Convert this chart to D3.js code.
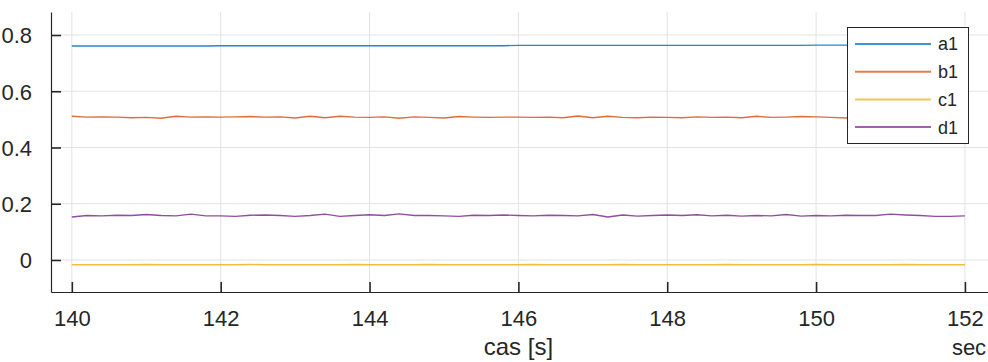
<!DOCTYPE html>
<html>
<head>
<meta charset="utf-8">
<script src="https://cdn.jsdelivr.net/npm/d3@7"></script>
<style>
  html, body { margin: 0; padding: 0; background: #fff; }
  svg { display: block; font-family: "Liberation Sans", Arial, sans-serif; }
</style>
</head>
<body>
<svg id="chart" width="988" height="362"></svg>
<script>
// Signal samples, 0.2 s apart, starting at t = 140 s
const t0 = 140;
const dt = 0.2;

const a1 = [0.761, 0.761, 0.761, 0.761, 0.761, 0.761, 0.761, 0.761, 0.761, 0.761,
            0.762, 0.762, 0.762, 0.762, 0.762, 0.762, 0.762, 0.762, 0.762, 0.762,
            0.762, 0.762, 0.762, 0.762, 0.762, 0.762, 0.762, 0.762, 0.762, 0.762,
            0.763, 0.763, 0.763, 0.763, 0.763, 0.763, 0.763, 0.763, 0.763, 0.763,
            0.763, 0.763, 0.763, 0.763, 0.763, 0.763, 0.763, 0.763, 0.763, 0.763,
            0.764, 0.764, 0.764, 0.764, 0.764, 0.764, 0.764, 0.764, 0.764, 0.764, 0.764];

const b1 = [0.511, 0.508, 0.509, 0.508, 0.506, 0.507, 0.504, 0.511, 0.508, 0.509,
            0.508, 0.509, 0.510, 0.508, 0.509, 0.505, 0.511, 0.506, 0.511, 0.508,
            0.507, 0.509, 0.504, 0.509, 0.507, 0.505, 0.510, 0.508, 0.507, 0.508,
            0.508, 0.507, 0.508, 0.506, 0.512, 0.506, 0.511, 0.507, 0.506, 0.508,
            0.507, 0.506, 0.509, 0.507, 0.508, 0.506, 0.511, 0.507, 0.508, 0.510,
            0.509, 0.507, 0.505, 0.508, 0.507, 0.508, 0.506, 0.510, 0.507, 0.508, 0.507];

const c1 = [-0.017, -0.017, -0.017, -0.017, -0.017, -0.016, -0.017, -0.017, -0.017, -0.017,
            -0.017, -0.017, -0.016, -0.017, -0.017, -0.017, -0.017, -0.017, -0.017, -0.016,
            -0.017, -0.017, -0.017, -0.017, -0.016, -0.017, -0.017, -0.017, -0.017, -0.017,
            -0.017, -0.016, -0.017, -0.017, -0.017, -0.017, -0.017, -0.016, -0.017, -0.017,
            -0.017, -0.017, -0.017, -0.017, -0.016, -0.017, -0.017, -0.017, -0.017, -0.017,
            -0.016, -0.017, -0.017, -0.017, -0.017, -0.017, -0.016, -0.017, -0.017, -0.017, -0.017];

const d1 = [0.153, 0.158, 0.157, 0.159, 0.158, 0.162, 0.158, 0.157, 0.163, 0.157,
            0.157, 0.155, 0.159, 0.160, 0.158, 0.155, 0.158, 0.163, 0.155, 0.158,
            0.161, 0.158, 0.164, 0.158, 0.158, 0.157, 0.155, 0.159, 0.158, 0.160,
            0.158, 0.157, 0.159, 0.158, 0.157, 0.162, 0.153, 0.160, 0.156, 0.158,
            0.160, 0.158, 0.161, 0.157, 0.159, 0.156, 0.158, 0.157, 0.162, 0.156,
            0.158, 0.157, 0.159, 0.158, 0.158, 0.163, 0.160, 0.158, 0.155, 0.155, 0.157];

const seriesNames = ["a1", "b1", "c1", "d1"];
const seriesData = [a1, b1, c1, d1];
const seriesColors = ["#0072BD", "#D95319", "#EDB120", "#7E2F8E"];

const xTicks = [140, 142, 144, 146, 148, 150, 152];
const yTicks = [0, 0.2, 0.4, 0.6, 0.8];
const xLabel = "cas [s]";
const xUnit = "sec";

const plotLeft = 51, plotRight = 988, plotTop = 12, plotBottom = 292;
const ink = "#262626";

const svg = d3.select("#chart");

const x = d3.scaleLinear().domain([139.72, 152.31]).range([plotLeft, plotRight]);
const y = d3.scaleLinear().domain([-0.1138, 0.8818]).range([plotBottom, plotTop]);

// grid
const grid = svg.append("g");
grid.selectAll("line.gx").data(xTicks).join("line")
  .attr("class", "gx")
  .attr("x1", d => x(d)).attr("x2", d => x(d))
  .attr("y1", plotTop).attr("y2", plotBottom)
  .attr("stroke", "#e3e3e3").attr("stroke-width", 1);
grid.selectAll("line.gy").data(yTicks).join("line")
  .attr("class", "gy")
  .attr("x1", plotLeft).attr("x2", plotRight)
  .attr("y1", d => y(d)).attr("y2", d => y(d))
  .attr("stroke", "#e3e3e3").attr("stroke-width", 1);

// series
const line = d3.line()
  .x((d, i) => x(t0 + i * dt))
  .y(d => y(d));

svg.append("g").selectAll("path").data(seriesData).join("path")
  .attr("d", d => line(d))
  .attr("fill", "none")
  .attr("stroke", (d, i) => seriesColors[i])
  .attr("stroke-width", 1.4)
  .attr("stroke-opacity", 0.85);

// axes
const xAxis = d3.axisBottom(x).tickValues(xTicks).tickSizeInner(-10).tickSizeOuter(0).tickPadding(18);
const yAxis = d3.axisLeft(y).tickValues(yTicks).tickSizeInner(-10).tickSizeOuter(0).tickPadding(19)
  .tickFormat(d => d === 0 ? "0" : d3.format(".1f")(d));

const gx = svg.append("g").attr("transform", `translate(0,${plotBottom})`).call(xAxis);
const gy = svg.append("g").attr("transform", `translate(${plotLeft},0)`).call(yAxis);

[gx, gy].forEach(g => {
  g.select(".domain").attr("stroke", ink).attr("stroke-width", 1.2);
  g.selectAll(".tick line").attr("stroke", ink).attr("stroke-width", 1.6);
  g.selectAll(".tick text")
    .attr("fill", ink)
    .attr("font-size", 22)
    .attr("font-family", "Liberation Sans, Arial, sans-serif");
});
gy.selectAll(".tick text").attr("dy", "0.36em");
gx.selectAll(".tick text").attr("dy", "0.71em");

svg.append("text")
  .attr("x", x(146)).attr("y", 355)
  .attr("text-anchor", "middle")
  .attr("font-size", 24).attr("fill", ink)
  .text(xLabel);

svg.append("text")
  .attr("x", 969).attr("y", 355)
  .attr("text-anchor", "middle")
  .attr("font-size", 22).attr("fill", ink)
  .text(xUnit);

// legend
const lg = svg.append("g").attr("transform", "translate(847,27)");
lg.append("rect")
  .attr("x", 0.5).attr("y", 0.5).attr("width", 121).attr("height", 116)
  .attr("fill", "#fff").attr("stroke", ink).attr("stroke-width", 1);

const rowY = i => 17 + i * 27.7;
const items = lg.selectAll("g.item").data(seriesNames).join("g")
  .attr("class", "item")
  .attr("transform", (d, i) => `translate(0,${rowY(i)})`);
items.append("line")
  .attr("x1", 8).attr("x2", 84).attr("y1", 0).attr("y2", 0)
  .attr("stroke", (d, i) => seriesColors[i])
  .attr("stroke-width", 2)
  .attr("stroke-opacity", 0.75);
items.append("text")
  .attr("x", 91).attr("y", 0).attr("dy", "0.36em")
  .attr("font-size", 18).attr("fill", ink)
  .text(d => d);
</script>
</body>
</html>
